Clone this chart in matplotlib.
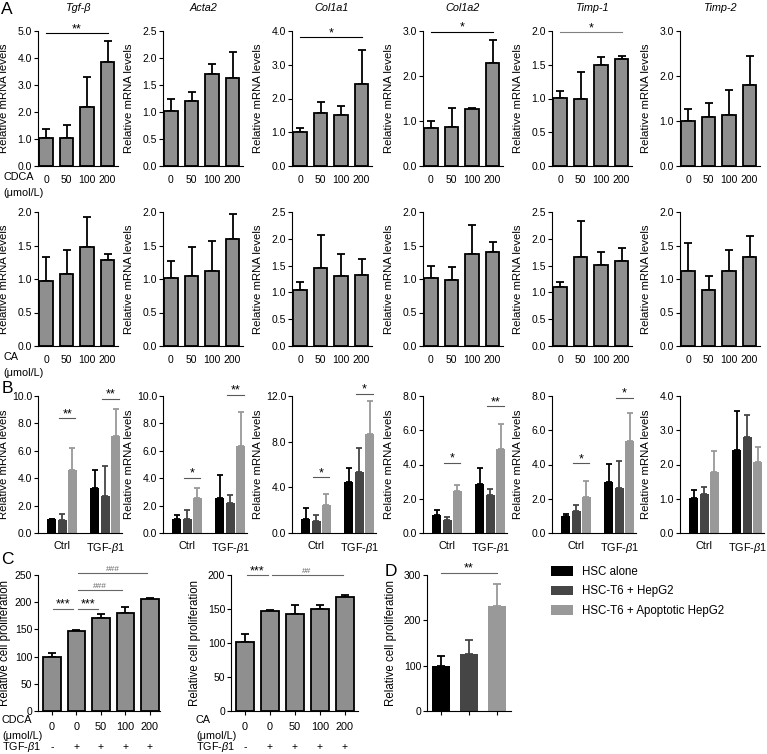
import numpy as np
import matplotlib.pyplot as plt
from matplotlib.patches import Patch
from matplotlib.ticker import FormatStrFormatter

plt.rcParams['font.family'] = ['Liberation Sans', 'DejaVu Sans']
plt.rcParams['mathtext.fontset'] = 'custom'
plt.rcParams['mathtext.rm'] = 'Liberation Sans'
plt.rcParams['mathtext.it'] = 'Liberation Sans:italic'
plt.rcParams['font.size'] = 7.5
plt.rcParams['axes.linewidth'] = 0.8

W, H = 767, 754

# ---- datos ----
genes = ["Tgf-β", "Acta2", "Col1a1", "Col1a2", "Timp-1", "Timp-2"]
doses = ["0", "50", "100", "200"]

# A, fila CDCA (media y extremo superior de la barra de error)
cdca_mean = [[1.03, 1.05, 2.19, 3.87], [1.02, 1.21, 1.71, 1.63], [1.00, 1.56, 1.51, 2.43],
             [0.84, 0.87, 1.27, 2.28], [1.01, 1.00, 1.49, 1.59], [1.01, 1.09, 1.13, 1.80]]
cdca_top = [[1.36, 1.52, 3.28, 4.63], [1.25, 1.37, 1.89, 2.12], [1.14, 1.91, 1.79, 3.45],
            [1.00, 1.30, 1.30, 2.80], [1.11, 1.40, 1.61, 1.63], [1.27, 1.41, 1.69, 2.44]]
cdca_ymax = [5.0, 2.5, 4.0, 3.0, 2.0, 3.0]
cdca_step = [1.0, 0.5, 1.0, 1.0, 0.5, 1.0]
cdca_sig = [(4.92, "**"), None, (3.82, "*"), (2.98, "*"), (1.98, "*"), None]

# A, fila CA
ca_mean = [[0.97, 1.07, 1.48, 1.28], [1.01, 1.05, 1.12, 1.60], [1.04, 1.45, 1.31, 1.32],
           [1.01, 0.99, 1.38, 1.41], [1.11, 1.66, 1.51, 1.59], [1.12, 0.84, 1.12, 1.33]]
ca_top = [[1.33, 1.44, 1.93, 1.37], [1.27, 1.48, 1.56, 1.97], [1.20, 2.08, 1.72, 1.62],
          [1.20, 1.18, 1.81, 1.55], [1.20, 2.34, 1.76, 1.83], [1.53, 1.04, 1.43, 1.64]]
ca_ymax = [2.0, 2.0, 2.5, 2.0, 2.5, 2.0]
ca_step = [0.5, 0.5, 0.5, 0.5, 0.5, 0.5]

# B: Ctrl / TGF-b1, tres grupos de celulas
groups = ["Ctrl", r"TGF-$\beta$1"]
cell_labels = ["HSC alone", "HSC-T6 + HepG2", "HSC-T6 + Apoptotic HepG2"]
b_ctrl_mean = [[1.02, 0.97, 4.60], [1.05, 1.05, 2.55], [1.25, 1.05, 2.45],
               [1.05, 0.78, 2.45], [1.02, 1.27, 2.12], [1.02, 1.13, 1.77]]
b_ctrl_top = [[1.05, 1.42, 6.20], [1.32, 1.70, 3.27], [2.15, 1.55, 3.40],
              [1.32, 0.95, 2.80], [1.10, 1.65, 3.02], [1.25, 1.33, 2.40]]
b_tgf_mean = [[3.27, 2.72, 7.08], [2.57, 2.18, 6.35], [4.45, 5.30, 8.70],
              [2.85, 2.22, 4.90], [3.00, 2.60, 5.35], [2.43, 2.80, 2.08]]
b_tgf_top = [[4.62, 4.86, 9.05], [4.22, 2.75, 8.80], [5.65, 7.45, 11.60],
             [3.80, 2.55, 6.35], [4.02, 4.22, 7.02], [3.57, 3.45, 2.50]]
b_ymax = [10.0, 10.0, 12.0, 8.0, 8.0, 4.0]
b_step = [2.0, 2.0, 4.0, 2.0, 2.0, 1.0]
b_sig_ctrl = [(8.4, "**"), (4.05, "*"), (4.9, "*"), (4.1, "*"), (4.07, "*"), None]
b_sig_tgf = [(9.8, "**"), (10.1, "**"), (12.2, "*"), (7.4, "**"), (7.9, "*"), None]

# C: proliferacion
c1_doses = ["0", "0", "50", "100", "200"]
c1_tgf = ["-", "+", "+", "+", "+"]
c1_mean = [100, 147, 171, 180, 205]
c1_top = [106, 149, 178, 192, 208]
c1_sig = [(0, 1, 188, "***"), (1, 2, 188, "***"), (1, 3, 222, "###"), (1, 4, 253, "###")]
c2_mean = [102, 147, 143, 150, 168]
c2_top = [113, 149, 156, 156, 170]
c2_sig = [(0, 1, 200, "***"), (1, 4, 200, "##")]

# D
d_mean = [100, 126, 231]
d_top = [121, 157, 280]

bar_gray = "#8f8f8f"
cell_colors = ["#000000", "#454545", "#999999"]


fig = plt.figure(figsize=(W / 100, H / 100), dpi=100)


def add_ax(left, top, right, bottom):
    ax = fig.add_axes([left / W, 1 - bottom / H, (right - left) / W, (bottom - top) / H])
    ax.spines[["top", "right"]].set_visible(False)
    ax.tick_params(axis="y", length=3, width=0.8, pad=1.2, labelsize=7.5)
    ax.set_ylabel("Relative mRNA levels", fontsize=8.2)
    ax.yaxis.set_label_coords(-29 / (right - left), 0.5)
    return ax


def set_y(ax, ymax, step, fmt="%.1f"):
    ax.set_ylim(0, ymax)
    ax.set_yticks(np.arange(0, ymax + step / 2, step))
    ax.yaxis.set_major_formatter(FormatStrFormatter(fmt))


def sig(ax, x1, x2, y, txt, color="k"):
    ax.plot([x1, x2], [y, y], color=color, lw=0.8, clip_on=False)
    if "#" in txt:
        ax.text((x1 + x2) / 2, y, txt, ha="center", va="bottom", fontsize=6, color=color)
    else:
        ax.text((x1 + x2) / 2, y - (ax.get_ylim()[1] * 0.015), txt, ha="center",
                va="bottom", fontsize=9, color="k")


def dose_panel(ax, mean, top):
    x = np.arange(4)
    mean = np.array(mean)
    err = np.array(top) - mean
    ax.bar(x, mean, width=0.66, color=bar_gray, edgecolor="k", linewidth=1.3, zorder=2)
    ax.errorbar(x, mean, yerr=[np.zeros(4), err], fmt="none", ecolor="k",
                elinewidth=1.3, capsize=3, capthick=1.3, zorder=1)
    ax.set_xlim(-0.39, 3.51)
    ax.set_xticks(x, doses)
    ax.tick_params(axis="x", length=0, pad=6.5, labelsize=7.5)


a_left = [38, 163, 292, 423, 552, 680]

# A fila CDCA
for i in range(6):
    ax = add_ax(a_left[i], 31, a_left[i] + 80, 166)
    dose_panel(ax, cdca_mean[i], cdca_top[i])
    set_y(ax, cdca_ymax[i], cdca_step[i])
    ax.text(0.5, 1 + 23 / 135, genes[i], style="italic", ha="center", va="center",
            transform=ax.transAxes, fontsize=7.8)
    if cdca_sig[i]:
        col = "0.5" if i == 4 else "k"
        sig(ax, 0, 3, cdca_sig[i][0], cdca_sig[i][1], color=col)

# A fila CA
for i in range(6):
    ax = add_ax(a_left[i], 212, a_left[i] + 80, 346)
    dose_panel(ax, ca_mean[i], ca_top[i])
    set_y(ax, ca_ymax[i], ca_step[i])

fig.text(3 / W, 1 - 177 / H, "CDCA", va="center", fontsize=7.8)
fig.text(3 / W, 1 - 193 / H, "(μmol/L)", va="center", fontsize=7.8)
fig.text(3 / W, 1 - 357 / H, "CA", va="center", fontsize=7.8)
fig.text(3 / W, 1 - 373 / H, "(μmol/L)", va="center", fontsize=7.8)

# B
offsets = [-0.24, 0.0, 0.24]
for i in range(6):
    ax = add_ax(a_left[i], 396, a_left[i] + 84, 533)
    for k in range(3):
        m = np.array([b_ctrl_mean[i][k], b_tgf_mean[i][k]])
        t = np.array([b_ctrl_top[i][k], b_tgf_top[i][k]])
        xs = np.arange(2) + offsets[k]
        ax.bar(xs, m, width=0.21, color=cell_colors[k], zorder=2)
        ax.errorbar(xs, m, yerr=[np.zeros(2), t - m], fmt="none", ecolor=cell_colors[k],
                    elinewidth=1.3, capsize=2.2, capthick=1.3, zorder=1)
    ax.set_xlim(-0.56, 1.39)
    ax.set_xticks([0, 1], groups)
    ax.tick_params(axis="x", length=0, pad=6, labelsize=7.8)
    set_y(ax, b_ymax[i], b_step[i])
    for g, s in enumerate([b_sig_ctrl[i], b_sig_tgf[i]]):
        if s:
            sig(ax, g + offsets[1] - 0.07, g + offsets[2] + 0.07, s[0], s[1], color="0.35")


def prolif_panel(ax, mean, top, width):
    x = np.arange(len(mean))
    mean = np.array(mean)
    ax.bar(x, mean, width=width, color=bar_gray, edgecolor="k", linewidth=1.3, zorder=2)
    ax.errorbar(x, mean, yerr=[np.zeros(len(x)), np.array(top) - mean], fmt="none",
                ecolor="k", elinewidth=1.3, capsize=3, capthick=1.3, zorder=1)
    ax.set_xticks(x, c1_doses)
    ax.tick_params(axis="x", length=3, width=0.8, pad=5, labelsize=7.8)
    for xi, s in zip(x, c1_tgf):
        ax.text(xi, -36 / 136, s, ha="center", va="center", fontsize=7.5,
                transform=ax.get_xaxis_transform())
    ax.set_ylabel("Relative cell proliferation", fontsize=8.3)


# C1
ax = add_ax(38, 575, 160, 711)
prolif_panel(ax, c1_mean, c1_top, 0.7)
ax.set_xlim(-0.57, 4.41)
set_y(ax, 250, 50, "%d")
ax.yaxis.set_label_coords(-27 / 122, 0.5)
for a, b, y, t in c1_sig:
    off = 0.04 if a == 0 else 0.08
    sig(ax, a + off, b - 0.14, y, t, color="0.4")

# C2
ax = add_ax(231, 575, 358, 711)
prolif_panel(ax, c2_mean, c2_top, 0.74)
ax.set_xlim(-0.56, 4.52)
set_y(ax, 200, 50, "%d")
ax.yaxis.set_label_coords(-30 / 127, 0.5)
for a, b, y, t in c2_sig:
    sig(ax, a + 0.06, b - 0.1, y, t, color="0.4")

for xl, lab in [(2, "CDCA"), (196, "CA")]:
    fig.text(xl / W, 1 - 720 / H, lab, va="center", fontsize=7.8)
    fig.text(xl / W, 1 - 736 / H, "(μmol/L)", va="center", fontsize=7.8)
    fig.text(xl / W, 1 - 747 / H, r"TGF-$\beta$1", va="center", fontsize=7.8)

# D
ax = add_ax(427, 575, 511, 711)
xd = np.arange(3)
dm = np.array(d_mean)
bars = ax.bar(xd, dm, width=0.65, color=cell_colors, zorder=2)
for k in range(3):
    ax.errorbar(xd[k], dm[k], yerr=[[0], [d_top[k] - dm[k]]], fmt="none",
                ecolor=cell_colors[k], elinewidth=1.3, capsize=3, capthick=1.3, zorder=1)
ax.set_xlim(-0.5, 2.5)
ax.set_xticks(xd, ["", "", ""])
ax.tick_params(axis="x", length=3, width=0.8)
set_y(ax, 300, 100, "%d")
ax.set_ylabel("Relative cell proliferation", fontsize=8.3)
ax.yaxis.set_label_coords(-30 / 84, 0.5)
sig(ax, 0, 2, 305, "**", color="0.4")

handles = [Patch(facecolor=c, edgecolor="none") for c in cell_colors]
fig.legend(handles, cell_labels, loc="upper left", bbox_to_anchor=(551 / W, 1 - 566 / H),
           frameon=False, fontsize=8.3, handlelength=1.9, handleheight=0.85,
           handletextpad=0.75, labelspacing=0.65, borderpad=0, borderaxespad=0)

# letras de panel
for lx, ly, let in [(7, 9, "A"), (7, 389, "B"), (7, 560, "C"), (391, 572, "D")]:
    fig.text(lx / W, 1 - ly / H, let, ha="center", va="center", fontsize=12.5)

plt.savefig("out.png", dpi=100)
